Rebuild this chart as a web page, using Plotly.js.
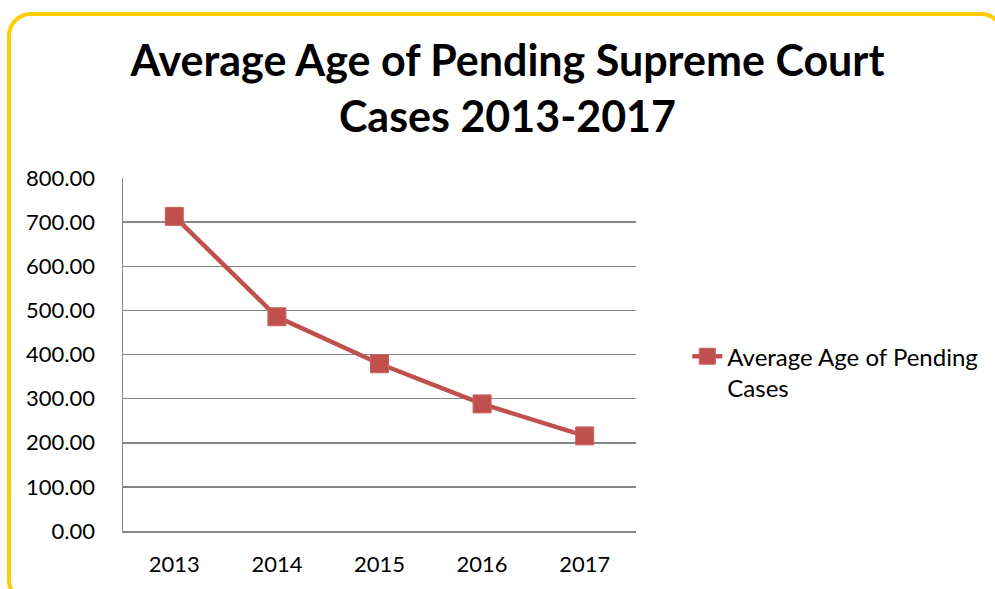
<!DOCTYPE html>
<html>
<head>
<meta charset="utf-8">
<script src="https://cdn.plot.ly/plotly-3.0.1.min.js"></script>
<style>
  html, body { margin:0; padding:0; background:#fff; overflow:hidden; }
  #wrap { position:relative; width:995px; height:589px; overflow:hidden; }
  #chart { position:absolute; left:0; top:0; width:995px; height:589px; }
  #frame { position:absolute; left:7px; top:12px; width:998px; height:592px; box-sizing:border-box;
           border:4px solid #FFCC00; border-radius:24px; pointer-events:none; }
</style>
</head>
<body>
<div id="wrap">
  <div id="chart"></div>
  <div id="frame"></div>
</div>
<script>
const years = ['2013', '2014', '2015', '2016', '2017'];
const avgAge = [713, 485.5, 379, 288, 215.5];
const seriesName = 'Average Age of Pending<br>Cases';
const chartTitle = 'Average Age of Pending Supreme Court<br>Cases 2013-2017';

const red = '#C0504D';
const grid = '#868686';
const fontFam = 'Lato, "Open Sans", sans-serif';

const trace = {
  x: years,
  y: avgAge,
  type: 'scatter',
  mode: 'lines+markers',
  name: seriesName,
  line: { color: red, width: 4.5 },
  marker: { symbol: 'square', size: 18, color: red, line: { color: '#C9625F', width: 1 } }
};

const layout = {
  width: 995, height: 589,
  margin: { l: 123, r: 359, t: 178, b: 58 },
  paper_bgcolor: 'rgba(0,0,0,0)',
  plot_bgcolor: '#fff',
  font: { family: fontFam, color: '#000' },
  title: {
    text: chartTitle,
    font: { family: fontFam, size: 43, color: '#000', weight: 'bold' },
    x: 0.51, xanchor: 'center', xref: 'container',
    y: 1 - 76 / 589, yanchor: 'top', yref: 'container'
  },
  xaxis: {
    type: 'category',
    range: [-0.5, 4.5],
    showgrid: false,
    showline: true, linecolor: grid, linewidth: 1.5,
    ticks: 'outside', ticklen: 13, tickcolor: 'rgba(0,0,0,0)',
    tickfont: { family: fontFam, size: 22, color: '#000' },
    zeroline: false, fixedrange: true
  },
  yaxis: {
    range: [0, 800],
    dtick: 100, tick0: 0,
    tickformat: '.2f',
    showgrid: true, gridcolor: grid, gridwidth: 1.5,
    showline: true, linecolor: grid, linewidth: 1.5,
    ticks: 'outside', ticklen: 22, tickcolor: 'rgba(0,0,0,0)',
    tickfont: { family: fontFam, size: 22, color: '#000' },
    zeroline: false, fixedrange: true
  },
  showlegend: true,
  legend: {
    x: 1.1, xanchor: 'left', xref: 'paper',
    y: 0.45, yanchor: 'middle', yref: 'paper',
    font: { family: fontFam, size: 24, color: '#000' },
    bgcolor: 'rgba(0,0,0,0)',
    valign: 'top'
  }
};

Plotly.newPlot('chart', [trace], layout, { displayModeBar: false, staticPlot: true });
</script>
</body>
</html>
